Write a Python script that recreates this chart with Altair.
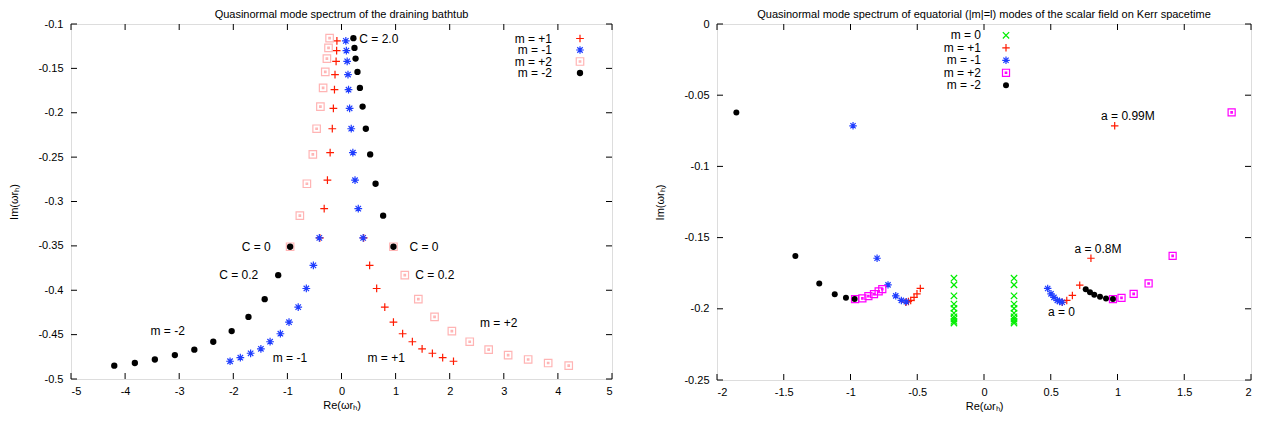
import altair as alt
import pandas as pd

FONT = "Liberation Sans"

# ---------------- Left panel: draining bathtub ----------------
bt_p1_re = [-0.085, -0.09, -0.10, -0.12, -0.13, -0.15, -0.17, -0.21, -0.26, -0.32, -0.40,
            0.41, 0.52, 0.65, 0.80, 0.96, 1.13, 1.31, 1.49, 1.68, 1.87, 2.07]
bt_p1_im = [-0.119, -0.130, -0.142, -0.157, -0.174, -0.195, -0.218, -0.245, -0.276, -0.308, -0.341,
            -0.341, -0.372, -0.398, -0.419, -0.436, -0.449, -0.458, -0.466, -0.471, -0.476, -0.480]
bt_m1_re = [0.08, 0.09, 0.105, 0.12, 0.13, 0.15, 0.18, 0.21, 0.25, 0.31, 0.40,
            -0.41, -0.52, -0.65, -0.80, -0.97, -1.13, -1.32, -1.49, -1.68, -1.87, -2.06]
bt_m1_im = [-0.119, -0.130, -0.142, -0.157, -0.174, -0.195, -0.218, -0.245, -0.276, -0.308, -0.341,
            -0.341, -0.372, -0.398, -0.419, -0.436, -0.449, -0.458, -0.466, -0.471, -0.476, -0.480]
bt_p2_re = [-0.22, -0.24, -0.27, -0.30, -0.34, -0.39, -0.46, -0.53, -0.64, -0.77, -0.95,
            0.96, 1.17, 1.42, 1.72, 2.04, 2.37, 2.72, 3.08, 3.45, 3.82, 4.20]
bt_p2_im = [-0.116, -0.127, -0.139, -0.154, -0.172, -0.193, -0.218, -0.247, -0.280, -0.316, -0.351,
            -0.351, -0.383, -0.410, -0.430, -0.446, -0.458, -0.467, -0.473, -0.478, -0.482, -0.485]
bt_m2_re = [0.22, 0.24, 0.26, 0.295, 0.34, 0.39, 0.45, 0.53, 0.63, 0.77, 0.96,
            -0.95, -1.17, -1.42, -1.72, -2.03, -2.37, -2.72, -3.08, -3.45, -3.82, -4.20]
bt_m2_im = [-0.116, -0.127, -0.139, -0.154, -0.172, -0.193, -0.218, -0.247, -0.280, -0.316, -0.351,
            -0.351, -0.383, -0.410, -0.430, -0.446, -0.458, -0.467, -0.473, -0.478, -0.482, -0.485]

bt_labels = ["C = 2.0", "C = 0", "C = 0", "C = 0.2", "C = 0.2", "m = -1", "m = +1", "m = -2", "m = +2"]
bt_label_re = [0.33, -1.845, 1.255, -2.26, 1.365, -1.27, 0.48, -3.53, 2.56]
bt_label_im = [-0.117, -0.351, -0.351, -0.383, -0.383, -0.476, -0.476, -0.446, -0.437]

bt_xticks = [-5, -4, -3, -2, -1, 0, 1, 2, 3, 4, 5]
bt_yticks = [-0.5, -0.45, -0.4, -0.35, -0.3, -0.25, -0.2, -0.15, -0.1]

# ---------------- Right panel: Kerr ----------------
k_0_re = [-0.225] * 10 + [0.225] * 10
k_0_im = [-0.1785, -0.1832, -0.1909, -0.1967, -0.1997, -0.203, -0.2056, -0.2072, -0.2088, -0.21,
          -0.1785, -0.1832, -0.1909, -0.1967, -0.1997, -0.203, -0.2056, -0.2072, -0.2088, -0.21]
k_p1_re = [0.586, 0.620, 0.662, 0.717, 0.801, 0.979,
           -0.586, -0.566, -0.549, -0.524, -0.502, -0.477]
k_p1_im = [-0.1954, -0.1941, -0.1906, -0.1834, -0.1645, -0.0715,
           -0.1954, -0.1948, -0.1941, -0.192, -0.1895, -0.1857]
k_m1_re = [-0.582, -0.619, -0.661, -0.719, -0.801, -0.981,
           0.586, 0.566, 0.549, 0.524, 0.502, 0.477]
k_m1_im = [-0.1951, -0.1941, -0.1909, -0.1832, -0.1645, -0.0715,
           -0.1954, -0.1948, -0.1941, -0.192, -0.1895, -0.1857]
k_p2_re = [0.966, 1.03, 1.121, 1.233, 1.413, 1.855,
           -0.966, -0.911, -0.866, -0.824, -0.789, -0.762]
k_p2_im = [-0.1932, -0.1923, -0.1895, -0.1822, -0.1628, -0.0621,
           -0.1932, -0.1927, -0.1911, -0.1897, -0.1878, -0.1862]
k_m2_re = [-0.969, -1.034, -1.118, -1.234, -1.413, -1.855,
           0.966, 0.914, 0.869, 0.826, 0.794, 0.762]
k_m2_im = [-0.1932, -0.1923, -0.1897, -0.1822, -0.1629, -0.0621,
           -0.1932, -0.1927, -0.1916, -0.1902, -0.1883, -0.1862]

k_labels = ["a = 0.99M", "a = 0.8M", "a = 0"]
k_label_re = [0.877, 0.677, 0.479]
k_label_im = [-0.0644, -0.1577, -0.2025]

k_xticks = [-2, -1.5, -1, -0.5, 0, 0.5, 1, 1.5, 2]
k_yticks = [-0.25, -0.2, -0.15, -0.1, -0.05, 0]

# symbol shapes (unit square paths)
PLUS = "M-1,0L1,0M0,-1L0,1"
CROSS = "M-1,-1L1,1M-1,1L1,-1"
STAR = "M-1,0L1,0M0,-1L0,1M-0.7,-0.7L0.7,0.7M-0.7,0.7L0.7,-0.7"
BOX = "M-1,-1L1,-1L1,1L-1,1ZM-0.2,-0.2L0.2,-0.2L0.2,0.2L-0.2,0.2Z"


def sym(shape, color, size):
    if shape == "circle":
        return dict(shape="circle", filled=True, color=color, size=size, opacity=1)
    return dict(shape=shape, filled=False, color=color, size=size, strokeWidth=1.2, opacity=1)


def panel(series, labels, lre, lim, xdom, ydom, xticks, yticks, W, H, title,
          leg_tx, leg_sx, leg_y0, leg_dy):
    xs = alt.Scale(domain=xdom, nice=False, zero=False)
    ys = alt.Scale(domain=ydom, nice=False, zero=False)
    xax = alt.Axis(
        values=xticks, title="Re(ωrₕ)", ticks=False, tickSize=0, domain=False, grid=False,
        labelExpr="'' + datum.value", labelPadding=6, titlePadding=3,
        labelFontSize=11, titleFontSize=11, titleFontWeight="normal",
        labelColor="black", titleColor="black", labelFont=FONT, titleFont=FONT)
    yax = alt.Axis(
        values=yticks, title="Im(ωrₕ)", ticks=False, tickSize=0, domain=False, grid=False,
        labelExpr="'' + datum.value", labelPadding=8, titlePadding=18,
        labelFontSize=11, titleFontSize=11, titleFontWeight="normal",
        labelColor="black", titleColor="black", labelFont=FONT, titleFont=FONT)

    def X(f):
        return alt.X(f, scale=xs, axis=xax)

    def Y(f):
        return alt.Y(f, scale=ys, axis=yax)

    layers = []
    for name, re, im, style in series:
        df = pd.DataFrame({"re": re, "im": im})
        layers.append(alt.Chart(df).mark_point(**style).encode(x=X("re:Q"), y=Y("im:Q")))

    # annotations
    adf = pd.DataFrame({"re": lre, "im": lim, "label": labels})
    layers.append(alt.Chart(adf).mark_text(align="left", baseline="middle", fontSize=12,
                                           font=FONT, color="black").encode(
        x=X("re:Q"), y=Y("im:Q"), text="label:N"))

    # legend (gnuplot style: text then symbol)
    for i, (name, re, im, style) in enumerate(series):
        ldf = pd.DataFrame({"label": [name]})
        yy = leg_y0 + i * leg_dy
        layers.append(alt.Chart(ldf).mark_text(align="right", baseline="middle", fontSize=12,
                                               font=FONT, color="black").encode(
            x=alt.value(leg_tx), y=alt.value(yy), text="label:N"))
        layers.append(alt.Chart(ldf).mark_point(**style).encode(x=alt.value(leg_sx), y=alt.value(yy)))

    # inward ticks on all four sides
    tx = pd.DataFrame({"v": xticks})
    ty = pd.DataFrame({"v": yticks})
    L = 6
    layers.append(alt.Chart(tx).mark_rule(color="black", strokeWidth=1).encode(
        x=X("v:Q"), y=alt.value(H), y2=alt.value(H - L)))
    layers.append(alt.Chart(tx).mark_rule(color="black", strokeWidth=1).encode(
        x=X("v:Q"), y=alt.value(0), y2=alt.value(L)))
    layers.append(alt.Chart(ty).mark_rule(color="black", strokeWidth=1).encode(
        y=Y("v:Q"), x=alt.value(0), x2=alt.value(L)))
    layers.append(alt.Chart(ty).mark_rule(color="black", strokeWidth=1).encode(
        y=Y("v:Q"), x=alt.value(W - L), x2=alt.value(W)))

    return alt.layer(*layers).properties(
        width=W, height=H,
        title=alt.TitleParams(title, fontSize=11, fontWeight="normal", font=FONT,
                              color="black", offset=-2, anchor="middle"))


RED = "#ff1a00"
BLUE = "#1f3dff"
PINK = "#ffb4b4"
MAG = "#ff00ff"
GREEN = "#00ee00"

left_series = [
    ("m = +1", bt_p1_re, bt_p1_im, sym(PLUS, RED, 60)),
    ("m = -1", bt_m1_re, bt_m1_im, sym(STAR, BLUE, 60)),
    ("m = +2", bt_p2_re, bt_p2_im, sym(BOX, PINK, 56)),
    ("m = -2", bt_m2_re, bt_m2_im, sym("circle", "black", 40)),
]
right_series = [
    ("m =  0", k_0_re, k_0_im, sym(CROSS, GREEN, 40)),
    ("m = +1", k_p1_re, k_p1_im, sym(PLUS, RED, 56)),
    ("m = -1", k_m1_re, k_m1_im, sym(STAR, BLUE, 56)),
    ("m = +2", k_p2_re, k_p2_im, sym(BOX, MAG, 50)),
    ("m = -2", k_m2_re, k_m2_im, sym("circle", "black", 36)),
]

left = panel(left_series, bt_labels, bt_label_re, bt_label_im, [-5, 5], [-0.5, -0.1],
             bt_xticks, bt_yticks, 541, 355,
             "Quasinormal mode spectrum of the draining bathtub",
             481, 509, 14.5, 11.5)
right = panel(right_series, k_labels, k_label_re, k_label_im, [-2, 2], [-0.25, 0],
              k_xticks, k_yticks, 534, 356,
              "Quasinormal mode spectrum of equatorial (|m|=l) modes of the scalar field on Kerr spacetime",
              264, 289, 11.3, 12.5)

chart = alt.hconcat(left, right, spacing=41).properties(
    padding={"left": 0, "top": 0, "right": 0, "bottom": 0}
).configure_view(stroke="black", strokeWidth=1.3).configure(font=FONT)

chart.save("out.html", embed_options={"renderer": "svg", "actions": False})
